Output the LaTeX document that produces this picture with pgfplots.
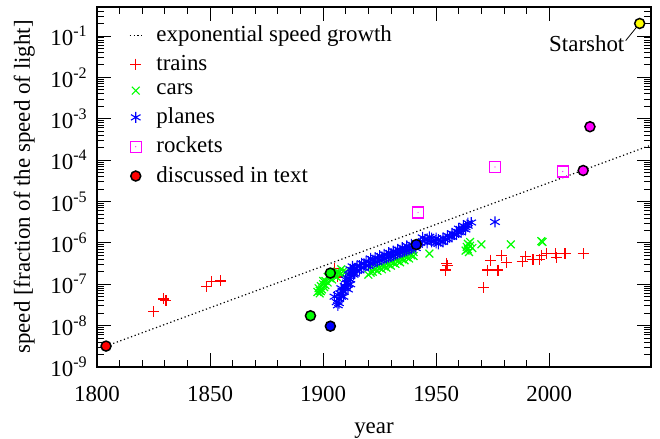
\documentclass[border=0pt]{standalone}
\usepackage{fontspec}
\setmainfont{Liberation Serif}
\usepackage{pgfplots}
\pgfplotsset{compat=1.18}

\definecolor{gpred}{rgb}{1,0,0}
\definecolor{gpgreen}{rgb}{0,1,0}
\definecolor{gpblue}{rgb}{0,0,1}
\definecolor{gpmagenta}{rgb}{1,0,1}
\definecolor{gpyellow}{rgb}{1,1,0}

% square with a small dot in its centre, as gnuplot draws it
\pgfdeclareplotmark{sqdot}{%
  \pgfpathrectangle{\pgfqpoint{-\pgfplotmarksize}{-\pgfplotmarksize}}{\pgfqpoint{2\pgfplotmarksize}{2\pgfplotmarksize}}%
  \pgfusepathqstroke
  \pgfpathcircle{\pgfpointorigin}{0.6bp}%
  \pgfusepathqfill}

\pgfplotsset{
  marklegend/.style={legend image code/.code={%
      \path (0bp,0bp) (24bp,0bp);
      \draw[##1] plot coordinates {(6bp,0bp)};}},
  linelegend/.style={legend image code/.code={%
      \path (0bp,0bp) (24bp,0bp);
      \draw[##1] (0bp,0bp) -- (12bp,0bp);}},
}

\begin{document}
\fontsize{23}{27}\selectfont
\begin{tikzpicture}
\begin{axis}[
    name=ax,
    scale only axis,
    width=554bp, height=360bp,
    xmin=1800, xmax=2045,
    ymode=log, ymin=1e-9, ymax=0.5,
    xtick={1800,1850,1900,1950,2000},
    minor x tick num=4,
    ytick={1e-9,1e-8,1e-7,1e-6,1e-5,1e-4,1e-3,1e-2,1e-1},
    yticklabels={10\textsuperscript{-9},10\textsuperscript{-8},10\textsuperscript{-7},10\textsuperscript{-6},10\textsuperscript{-5},10\textsuperscript{-4},10\textsuperscript{-3},10\textsuperscript{-2},10\textsuperscript{-1}},
    minor ytick={2e-9,3e-9,4e-9,5e-9,6e-9,7e-9,8e-9,9e-9,
                 2e-8,3e-8,4e-8,5e-8,6e-8,7e-8,8e-8,9e-8,
                 2e-7,3e-7,4e-7,5e-7,6e-7,7e-7,8e-7,9e-7,
                 2e-6,3e-6,4e-6,5e-6,6e-6,7e-6,8e-6,9e-6,
                 2e-5,3e-5,4e-5,5e-5,6e-5,7e-5,8e-5,9e-5,
                 2e-4,3e-4,4e-4,5e-4,6e-4,7e-4,8e-4,9e-4,
                 2e-3,3e-3,4e-3,5e-3,6e-3,7e-3,8e-3,9e-3,
                 2e-2,3e-2,4e-2,5e-2,6e-2,7e-2,8e-2,9e-2,
                 2e-1,3e-1,4e-1},
    major tick length=14bp, minor tick length=7bp,
    tick style={black, line width=0.8bp},
    axis line style={line width=1.3bp},
    /pgf/number format/1000 sep={},
    /pgf/number format/assume math mode=true,
    xticklabel style={yshift=-11bp},
    yticklabel style={xshift=-2bp},
    xlabel={year},
    xlabel style={yshift=-6bp},
    ylabel={speed [fraction of the speed of light]},
    legend style={draw=none, fill=none, at={(0.052,0.96)}, anchor=north west,
                  row sep=6bp, font=\fontsize{23}{27}\selectfont},
    legend cell align=left,
  ]

% exponential speed growth (straight line on the log axis)
\addplot[black, line width=1.2bp, dash pattern=on 1.2bp off 2.6bp, linelegend]
  coordinates {(1804,3.2e-9) (2045,2.3e-4)};
\addlegendentry{exponential speed growth}

% trains
\addplot[only marks, color=gpred, mark=+, mark size=5.5bp, line width=1.2bp,
  mark options={draw=gpred, solid}, marklegend] coordinates {
(1825,2.15e-8) (1829.5,4.4e-8) (1830.5,4.1e-8) (1848.5,8.8e-8) (1850.5,1.17e-7)
(1854.5,1.2e-7) (1905,2.4e-7) (1906.5,1.5e-7) (1954,2.2e-7) (1954.5,3.2e-7)
(1955,2.9e-7) (1971,8.2e-8) (1972.8,2.2e-7) (1974,3.8e-7) (1977.3,2.2e-7)
(1978.8,5e-7) (1981,3.4e-7) (1988,3.6e-7) (1989.5,4.6e-7) (1992.8,3.9e-7)
(1995.7,3.9e-7) (1996.5,5e-7) (1998.7,5.5e-7) (2002.7,5.5e-7) (2003.1,4.4e-7)
(2007,5.5e-7) (2015,5.5e-7)
};
\addlegendentry{trains}

% cars
\addplot[only marks, color=gpgreen, mark=x, mark size=5.5bp, line width=1.2bp,
  mark options={draw=gpgreen, solid}, marklegend] coordinates {
(1897.5,6.5e-8) (1898,8e-8) (1898.5,6e-8) (1898.5,7e-8) (1899,9e-8) (1899,6.8e-8)
(1899.5,7.5e-8) (1900,1.0e-7) (1900,1.2e-7) (1900.5,8.5e-8) (1901,1.2e-7)
(1901,9.5e-8) (1902,1.1e-7) (1902,1.5e-7) (1903,1.4e-7) (1904,1.3e-7)
(1904,1.7e-7) (1905,1.6e-7) (1906,1.5e-7) (1906,2.0e-7) (1907,1.9e-7)
(1908,1.8e-7) (1908,2.3e-7) (1909,2.1e-7) (1910,2.0e-7) (1920,1.7e-7)
(1921,1.9e-7) (1922,2.0e-7) (1922,2.4e-7) (1923,2.3e-7) (1924,2.1e-7)
(1924,2.6e-7) (1925,2.5e-7) (1926,2.3e-7) (1926,2.9e-7) (1927,2.7e-7)
(1928,2.5e-7) (1928,3.2e-7) (1929,3.0e-7) (1930,2.8e-7) (1930,3.5e-7)
(1931,3.3e-7) (1932,3.1e-7) (1932,4.0e-7) (1933,3.6e-7) (1934,3.4e-7)
(1934,4.4e-7) (1935,4.0e-7) (1936,3.8e-7) (1936,4.9e-7) (1937,4.5e-7)
(1938,4.2e-7) (1938,5.5e-7) (1939,5.0e-7) (1940,4.8e-7) (1940,6.0e-7)
(1947,5.5e-7) (1963,6.5e-7) (1963.5,8e-7) (1964,7e-7) (1964,9.5e-7)
(1964.5,6e-7) (1965,8.5e-7) (1965,1.05e-6) (1966,7.5e-7) (1970,9.2e-7)
(1983,9.2e-7) (1996.5,1.1e-6) (1997,1.05e-6)
};
\addlegendentry{cars}

% planes
\addplot[only marks, color=gpblue, mark=asterisk, mark size=5.5bp, line width=1.1bp,
  mark options={draw=gpblue, solid}, marklegend] coordinates {
(1905,5e-8) (1906,3.7e-8) (1906.5,3.1e-8) (1906.5,5.5e-8) (1907,4.5e-8)
(1907,3.5e-8) (1907.5,6e-8) (1908,5e-8) (1908,8e-8) (1908.5,7e-8)
(1909,6.5e-8) (1909,5e-8) (1909.5,9e-8) (1910,8e-8) (1910,1.3e-7)
(1910.5,1.1e-7) (1911,1.0e-7) (1911,7.5e-8) (1911,1.4e-7) (1911.5,1.7e-7)
(1912,1.3e-7) (1912,1.0e-7) (1912,2.3e-7) (1912.5,1.9e-7) (1913,2.2e-7)
(1913,2.7e-7) (1913.5,1.7e-7) (1914,2.4e-7) (1914,1.8e-7) (1915,2.1e-7)
(1915,2.7e-7) (1916,2.8e-7) (1916,2.2e-7) (1917,2.5e-7) (1917,3.2e-7)
(1918,3.1e-7) (1918,2.5e-7) (1919,2.8e-7) (1919,3.5e-7) (1920,3.5e-7)
(1920,2.8e-7) (1921,3.1e-7) (1921,4.2e-7) (1922,3.8e-7) (1922,3.2e-7)
(1923,3.4e-7) (1923,4.4e-7) (1924,4.2e-7) (1924,3.5e-7) (1925,3.8e-7)
(1925,4.9e-7) (1926,4.6e-7) (1926,3.9e-7) (1927,4.1e-7) (1927,5.3e-7)
(1928,5.0e-7) (1928,4.3e-7) (1929,4.5e-7) (1929,5.8e-7) (1930,5.5e-7)
(1930,4.7e-7) (1931,4.9e-7) (1931,6.3e-7) (1932,6.0e-7) (1932,5.2e-7)
(1933,5.4e-7) (1933,7.0e-7) (1934,6.6e-7) (1934,5.7e-7) (1935,6.0e-7)
(1935,7.7e-7) (1936,7.0e-7) (1936,6.2e-7) (1937,6.5e-7) (1937,8.5e-7)
(1938,7.8e-7) (1938,6.8e-7) (1939,7.2e-7) (1939,9.2e-7) (1940,8.5e-7)
(1941,7.5e-7) (1942,9e-7) (1943,1.0e-6) (1944,1.1e-6) (1944,1.35e-6)
(1945,1.2e-6) (1946,1.0e-6) (1946,1.25e-6) (1947,1.4e-6) (1948,1.05e-6)
(1948,1.3e-6) (1949,1.1e-6) (1950,1.0e-6) (1950,1.3e-6) (1951,1.2e-6)
(1951,9.5e-7) (1952,1.1e-6) (1953,1.3e-6) (1953,1.05e-6) (1954,1.2e-6)
(1955,1.5e-6) (1955,1.25e-6) (1956,1.4e-6) (1957,1.7e-6) (1957,1.4e-6)
(1958,1.6e-6) (1959,1.9e-6) (1959,1.6e-6) (1960,1.8e-6) (1960,2.2e-6)
(1961,2.1e-6) (1961,1.8e-6) (1962,2.2e-6) (1962,2.6e-6) (1963,2.4e-6)
(1963,2.1e-6) (1964,2.6e-6) (1964,3.0e-6) (1965.5,3.1e-6) (1976,3.2e-6)
};
\addlegendentry{planes}

% rockets
\addplot[only marks, color=gpmagenta, mark=sqdot, mark size=5.5bp, line width=1.1bp,
  mark options={draw=gpmagenta, fill=gpmagenta, solid}, marklegend] coordinates {
(1942,5.4e-6) (1976,6.8e-5) (2006,5.3e-5)
};
\addlegendentry{rockets}

% discussed in text
\addplot[only marks, mark=*, mark size=5bp, draw=black, fill=gpred, line width=1.5bp, marklegend] coordinates {(1804,3.2e-9)};
\addlegendentry{discussed in text}
\addplot[forget plot, only marks, mark=*, mark size=5bp, draw=black, fill=gpgreen, line width=1.5bp] coordinates {(1894.4,1.73e-8) (1903.2,1.86e-7)};
\addplot[forget plot, only marks, mark=*, mark size=5bp, draw=black, fill=gpblue, line width=1.5bp] coordinates {(1903.2,9.7e-9) (1941.2,9.1e-7)};
\addplot[forget plot, only marks, mark=*, mark size=5bp, draw=black, fill=gpmagenta, line width=1.5bp] coordinates {(2015,5.6e-5) (2018,6.4e-4)};
\addplot[forget plot, only marks, mark=*, mark size=5bp, draw=black, fill=gpyellow, line width=1.5bp] coordinates {(2040,0.2)};

\node[anchor=east, inner sep=0pt] at (axis cs:2033.3,0.065) {Starshot};
\draw[black, line width=0.8bp] (axis cs:2033.8,0.077) -- (axis cs:2038.3,0.155);
\end{axis}
\pgfresetboundingbox
\path[use as bounding box] ([shift={(-97bp,-72bp)}]ax.south west) rectangle ([shift={(9bp,7bp)}]ax.north east);
\end{tikzpicture}
\end{document}
